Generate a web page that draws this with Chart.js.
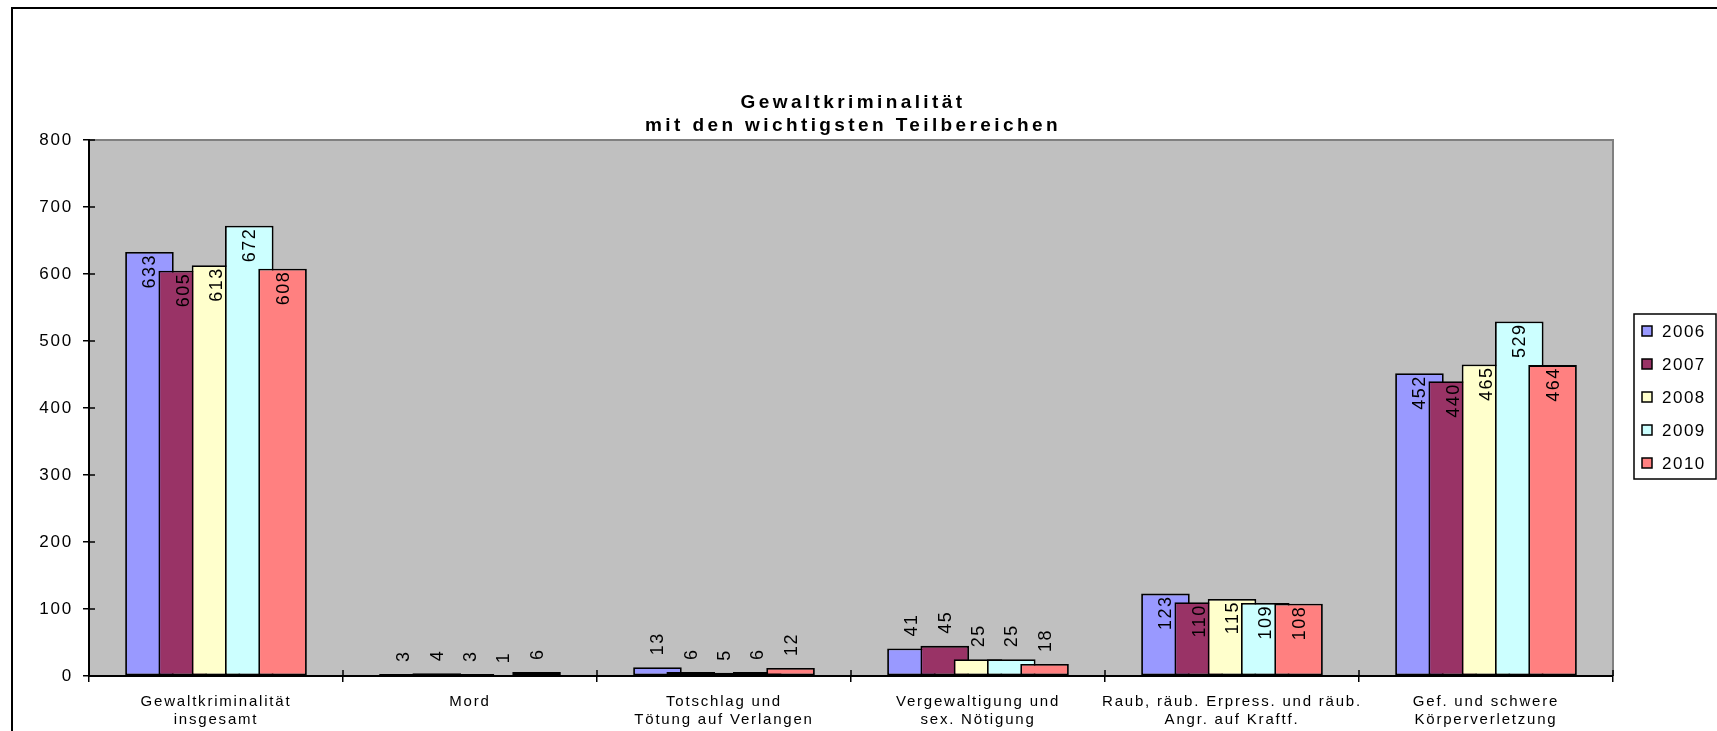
<!DOCTYPE html>
<html><head><meta charset="utf-8">
<script src="https://cdn.jsdelivr.net/npm/chart.js@4.4.0/dist/chart.umd.min.js"></script>
<style>html,body{margin:0;padding:0;background:#fff;overflow:hidden;}canvas{display:block;}</style>
</head><body>
<canvas id="c" width="1717" height="731"></canvas>
<script>
const categories = [
  ["Gewaltkriminalität", "insgesamt"],
  ["Mord"],
  ["Totschlag und", "Tötung auf Verlangen"],
  ["Vergewaltigung und", "sex. Nötigung"],
  ["Raub, räub. Erpress. und räub.", "Angr. auf Kraftf."],
  ["Gef. und schwere", "Körperverletzung"]
];
const years = ["2006", "2007", "2008", "2009", "2010"];
const values2006 = [633, 3, 13, 41, 123, 452];
const values2007 = [605, 4, 6, 45, 110, 440];
const values2008 = [613, 3, 5, 25, 115, 465];
const values2009 = [672, 1, 6, 25, 109, 529];
const values2010 = [608, 6, 12, 18, 108, 464];
const yTicks = [0, 100, 200, 300, 400, 500, 600, 700, 800];
const titleLines = ["Gewaltkriminalität", "mit den wichtigsten Teilbereichen"];
const colors = ["#9999FF", "#993366", "#FFFFCC", "#CCFFFF", "#FF8080"];

const FONT = "'Liberation Sans', Arial, sans-serif";
const seriesValues = [values2006, values2007, values2008, values2009, values2010];

const datasets = years.map((y, i) => ({
  label: y,
  data: seriesValues[i],
  backgroundColor: colors[i],
  borderColor: "#000",
  borderWidth: 1.8,
  borderSkipped: false,
  categoryPercentage: 0.655,
  barPercentage: 1.46
}));

const custom = {
  id: "custom",
  beforeDraw(chart) {
    const ctx = chart.ctx, a = chart.chartArea;
    ctx.save();
    ctx.fillStyle = "#fff";
    ctx.fillRect(0, 0, chart.width, chart.height);
    // outer frame
    ctx.strokeStyle = "#000"; ctx.lineWidth = 2;
    ctx.beginPath();
    ctx.moveTo(12, 731); ctx.lineTo(12, 8); ctx.lineTo(1717, 8);
    ctx.stroke();
    // plot area
    ctx.fillStyle = "#C0C0C0";
    ctx.fillRect(a.left, a.top, a.right - a.left, a.bottom - a.top);
    ctx.strokeStyle = "#808080"; ctx.lineWidth = 2;
    ctx.beginPath();
    ctx.moveTo(a.left, a.top); ctx.lineTo(a.right, a.top); ctx.lineTo(a.right, a.bottom);
    ctx.stroke();
    ctx.restore();
    ctx.letterSpacing = "1.8px";
  },
  beforeDatasetsDraw(chart) {
    const ctx = chart.ctx;
    ctx.save();
    for (let i = 0; i < chart.data.datasets.length; i++) {
      chart.getDatasetMeta(i).controller.draw();
    }
    ctx.restore();
    return false;
  },
  afterDraw(chart) {
    const ctx = chart.ctx, a = chart.chartArea;
    const xs = chart.scales.x, ys = chart.scales.y;
    ctx.save();
    // inward tick marks
    ctx.strokeStyle = "#000"; ctx.lineWidth = 1.5;
    ctx.beginPath();
    yTicks.forEach(v => {
      const y = ys.getPixelForValue(v);
      ctx.moveTo(a.left, y); ctx.lineTo(a.left + 6, y);
    });
    const cw = (a.right - a.left) / categories.length;
    for (let i = 0; i <= categories.length; i++) {
      const x = xs.getPixelForValue(0) - cw / 2 + i * cw;
      ctx.moveTo(x, a.bottom); ctx.lineTo(x, a.bottom - 6);
    }
    ctx.stroke();

    // data labels
    ctx.fillStyle = "#000";
    ctx.font = "18px " + FONT;
    ctx.letterSpacing = "1.5px";
    ctx.textBaseline = "middle";
    chart.data.datasets.forEach((ds, i) => {
      const meta = chart.getDatasetMeta(i);
      meta.data.forEach((bar, j) => {
        const txt = String(ds.data[j]);
        const w = ctx.measureText(txt).width;
        const h = bar.base - bar.y;
        ctx.save();
        if (h > w + 14) {
          ctx.translate(bar.x + 1, bar.y + 2);
          ctx.rotate(-Math.PI / 2);
          ctx.textAlign = "right";
        } else {
          ctx.translate(bar.x + 1, bar.y - 12);
          ctx.rotate(-Math.PI / 2);
          ctx.textAlign = "left";
        }
        ctx.fillText(txt, 0, 0);
        ctx.restore();
      });
    });

    // title
    ctx.font = "bold 19px " + FONT;
    ctx.letterSpacing = "3.4px";
    ctx.textAlign = "center";
    const cx = (a.left + a.right) / 2 + 2;
    ctx.fillText(titleLines[0], cx, 103);
    ctx.fillText(titleLines[1], cx, 126);

    // legend
    const lx = 1634, ly = 314, lw = 82, lh = 165;
    ctx.lineWidth = 1.5; ctx.strokeStyle = "#000";
    ctx.strokeRect(lx, ly, lw, lh);
    ctx.font = "17px " + FONT;
    ctx.letterSpacing = "1.5px";
    ctx.textAlign = "left";
    years.forEach((yr, i) => {
      const cy = 331 + i * 33;
      ctx.fillStyle = colors[i];
      ctx.fillRect(1642, cy - 5, 10, 10);
      ctx.strokeRect(1642, cy - 5, 10, 10);
      ctx.fillStyle = "#000";
      ctx.fillText(yr, 1662, cy + 1);
    });
    ctx.restore();
  }
};

new Chart(document.getElementById("c"), {
  type: "bar",
  data: { labels: categories, datasets: datasets },
  options: {
    responsive: false,
    animation: false,
    devicePixelRatio: 1,
    layout: { padding: { top: 140, right: 104, left: 0, bottom: 0 } },
    plugins: { legend: { display: false }, title: { display: false }, tooltip: { enabled: false } },
    scales: {
      x: {
        type: "category",
        grid: { offset: true, drawOnChartArea: false, tickLength: 6, color: "#000", lineWidth: 1.5 },
        border: { color: "#000", width: 2 },
        ticks: { color: "#000", font: { family: FONT, size: 15, lineHeight: 1.2 }, maxRotation: 0, minRotation: 0, autoSkip: false, padding: 11 },
        afterFit(s) { s.height = 55; }
      },
      y: {
        min: 0, max: 800,
        afterBuildTicks(s) { s.ticks = yTicks.map(v => ({ value: v })); },
        grid: { drawOnChartArea: false, tickLength: 6, color: "#000", lineWidth: 1.5 },
        border: { color: "#000", width: 2 },
        ticks: { color: "#000", font: { family: FONT, size: 17 }, padding: 10 },
        afterFit(s) { s.width = 89; }
      }
    }
  },
  plugins: [custom]
});
</script>
</body></html>
